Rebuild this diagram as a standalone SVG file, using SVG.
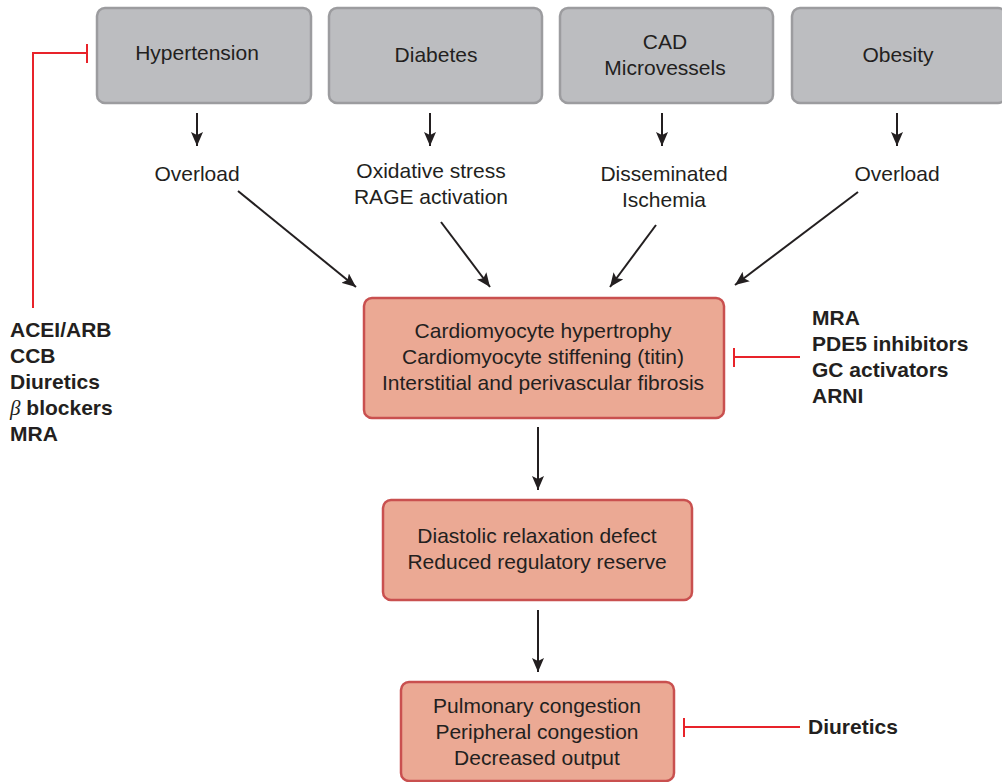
<svg xmlns="http://www.w3.org/2000/svg" width="1002" height="782" viewBox="0 0 1002 782">
<defs>
<style>
.top{fill:#bcbdc0;stroke:#9c9c9f;stroke-width:2.5}
.red{fill:#eba994;stroke:#c9504f;stroke-width:2.5}
text{font-family:"Liberation Sans",Arial,sans-serif;font-size:21px;fill:#231f20;text-anchor:middle}
.drug{font-weight:bold;text-anchor:start;font-size:21px}
.beta{font-family:"Liberation Serif","Times New Roman",serif;font-style:italic;font-weight:normal}
.ar{stroke:#231f20;stroke-width:2;fill:none}
.inh{stroke:#e8232a;stroke-width:2;fill:none}
</style>
<marker id="ah" markerUnits="userSpaceOnUse" markerWidth="15" markerHeight="12" refX="14" refY="6" orient="auto">
<path d="M0,0 L14,6 L0,12 L3,6 Z" fill="#231f20"/>
</marker>
</defs>
<g id="hypertension"><rect class="top" x="97" y="8" width="214" height="95" rx="8"/><text x="197" y="60">Hypertension</text></g>
<g id="diabetes"><rect class="top" x="329" y="8" width="213" height="95" rx="8"/><text x="436" y="62">Diabetes</text></g>
<g id="cad"><rect class="top" x="560" y="8" width="213" height="95" rx="8"/><text x="665" y="49">CAD</text><text x="665" y="75">Microvessels</text></g>
<g id="obesity"><rect class="top" x="792" y="8" width="214" height="95" rx="8"/><text x="898" y="62">Obesity</text></g>
<g id="lbl-overload1"><text x="197" y="181">Overload</text></g>
<g id="lbl-oxidative"><text x="431" y="178">Oxidative stress</text><text x="431" y="204">RAGE activation</text></g>
<g id="lbl-ischemia"><text x="664" y="181">Disseminated</text><text x="664" y="207">Ischemia</text></g>
<g id="lbl-overload2"><text x="897" y="181">Overload</text></g>
<g id="remodeling"><rect class="red" x="364" y="298" width="360" height="120" rx="8"/><text x="543" y="338">Cardiomyocyte hypertrophy</text><text x="543" y="364">Cardiomyocyte stiffening (titin)</text><text x="543" y="390">Interstitial and perivascular fibrosis</text></g>
<g id="diastolic"><rect class="red" x="383" y="500" width="309" height="100" rx="8"/><text x="537" y="543">Diastolic relaxation defect</text><text x="537" y="569">Reduced regulatory reserve</text></g>
<g id="congestion"><rect class="red" x="401" y="682" width="273" height="99" rx="8"/><text x="537" y="713">Pulmonary congestion</text><text x="537" y="739">Peripheral congestion</text><text x="537" y="765">Decreased output</text></g>
<g id="drugs-left"><text class="drug" x="10" y="337">ACEI/ARB</text><text class="drug" x="10" y="363">CCB</text><text class="drug" x="10" y="389">Diuretics</text><text class="drug" x="10" y="415"><tspan class="beta">β</tspan> blockers</text><text class="drug" x="10" y="441">MRA</text></g>
<g id="drugs-right"><text class="drug" x="812" y="325">MRA</text><text class="drug" x="812" y="351">PDE5 inhibitors</text><text class="drug" x="812" y="377">GC activators</text><text class="drug" x="812" y="403">ARNI</text></g>
<g id="drugs-bottom"><text class="drug" x="808" y="734">Diuretics</text></g>
<g id="connectors">
<line class="ar" x1="197" y1="113" x2="197" y2="146" marker-end="url(#ah)"/>
<line class="ar" x1="430" y1="113" x2="430" y2="146" marker-end="url(#ah)"/>
<line class="ar" x1="662" y1="113" x2="662" y2="146" marker-end="url(#ah)"/>
<line class="ar" x1="897" y1="113" x2="897" y2="146" marker-end="url(#ah)"/>
<line class="ar" x1="238" y1="191" x2="356" y2="287" marker-end="url(#ah)"/>
<line class="ar" x1="441" y1="222" x2="490" y2="287" marker-end="url(#ah)"/>
<line class="ar" x1="656" y1="225" x2="610" y2="287" marker-end="url(#ah)"/>
<line class="ar" x1="858" y1="192" x2="735" y2="285" marker-end="url(#ah)"/>
<line class="ar" x1="538" y1="427" x2="538" y2="490" marker-end="url(#ah)"/>
<line class="ar" x1="538" y1="610" x2="538" y2="672" marker-end="url(#ah)"/>
<polyline class="inh" points="33,308 33,53 87,53"/>
<line class="inh" x1="87" y1="44" x2="87" y2="63"/>
<line class="inh" x1="800" y1="357" x2="734" y2="357"/>
<line class="inh" x1="734" y1="348" x2="734" y2="367"/>
<line class="inh" x1="800" y1="727" x2="684" y2="727"/>
<line class="inh" x1="684" y1="718" x2="684" y2="737"/>
</g>
</svg>
